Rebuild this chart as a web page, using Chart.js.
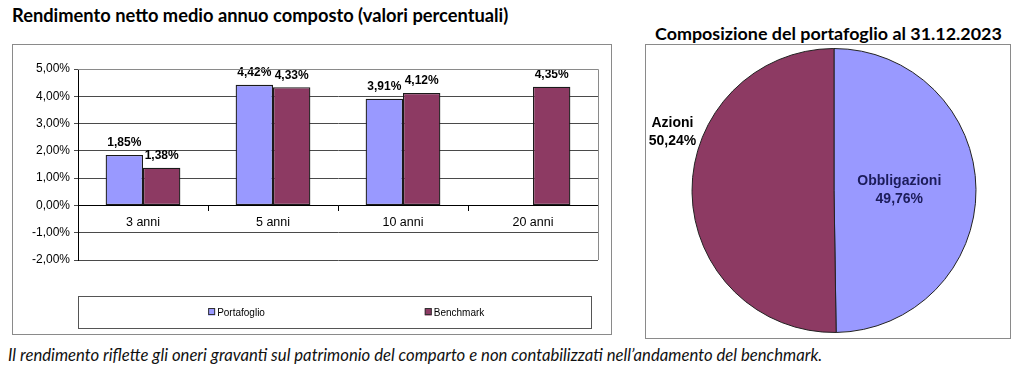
<!DOCTYPE html>
<html>
<head>
<meta charset="utf-8">
<script src="https://cdn.jsdelivr.net/npm/chart.js@4/dist/chart.umd.min.js"></script>
<style>
  body{ margin:0; background:#fff; width:1024px; height:379px; position:relative; overflow:hidden; font-family:Lato, "Open Sans", sans-serif }
  .title{ position:absolute; font-weight:bold; font-size:18.3px; color:#000; white-space:nowrap; line-height:20px }
  .box{ position:absolute; border:1px solid #8a8a8a; box-sizing:border-box }
  canvas{ position:absolute; left:0; top:0 }
  #note{ position:absolute; left:8px; top:345px; font-style:italic; font-size:16.7px; line-height:20px; white-space:nowrap; color:#111 }
</style>
</head>
<body>

<div class="title" id="t1" style="left:12px; top:5px">Rendimento netto medio annuo composto (valori percentuali)</div>
<div class="title" id="t2" style="left:655px; top:23px; font-size:17.9px">Composizione del portafoglio al 31.12.2023</div>

<div class="box" style="left:12px; top:44px; width:600px; height:291px"></div>
<canvas id="barChart" width="600" height="290" style="left:12px; top:44px"></canvas>

<div class="box" style="left:645px; top:44px; width:366px; height:295px"></div>
<canvas id="pieChart" width="365" height="294" style="left:645px; top:44px"></canvas>

<div id="note">Il rendimento riflette gli oneri gravanti sul patrimonio del comparto e non contabilizzati nell’andamento del benchmark.</div>

<script>
const periods = ["3 anni", "5 anni", "10 anni", "20 anni"]
const portafoglio = [1.85, 4.42, 3.91, null]
const benchmark = [1.38, 4.33, 4.12, 4.35]
const yTicks = [-2, -1, 0, 1, 2, 3, 4, 5]

const pieLabels = ["Obbligazioni", "Azioni"]
const pieValues = [49.76, 50.24]

const purple = "#9999ff"
const plum = "#8d3a63"

Chart.defaults.font.family = "'Liberation Sans', Arial, sans-serif"
Chart.defaults.color = "#000"
Chart.defaults.animation = false

const pct = v => v.toFixed(2).replace(".", ",") + "%"

// value labels over the bars
const barLabels = {
  id:"barLabels",
  afterDatasetsDraw(chart){
    const ctx = chart.ctx
    ctx.save()
    ctx.font = "bold 12px 'Liberation Sans', Arial"
    ctx.fillStyle = "#000"
    ctx.textAlign = "center"
    ctx.textBaseline = "middle"
    chart.data.datasets.forEach((ds, i) => {
      chart.getDatasetMeta(i).data.forEach((bar, j) => {
        if(ds.data[j] == null) return
        ctx.fillText(pct(ds.data[j]), bar.x, bar.y - 12)
      })
    })
    ctx.restore()
  }
}

// grey frame round the plot + boxed legend like excel
const frameAndLegend = {
  id:"frameAndLegend",
  afterDraw(chart){
    const ctx = chart.ctx
    const a = chart.chartArea
    ctx.save()
    ctx.strokeStyle = "#8a8a8a"
    ctx.lineWidth = 1
    ctx.beginPath()
    ctx.moveTo(a.left, a.top + 0.5)
    ctx.lineTo(a.right + 0.5, a.top + 0.5)
    ctx.lineTo(a.right + 0.5, a.bottom)
    ctx.stroke()

    const lx = a.left, ly = 252, lw = 513, lh = 32
    ctx.strokeStyle = "#555"
    ctx.strokeRect(lx + 0.5, ly + 0.5, lw, lh)

    const spots = [0.31, 0.735]
    ctx.font = "10px 'Liberation Sans', Arial"
    ctx.textBaseline = "middle"
    ctx.textAlign = "left"
    chart.data.datasets.forEach((ds, i) => {
      const w = ctx.measureText(ds.label).width + 10
      const x = lx + lw * spots[i] - w / 2
      const y = ly + lh / 2
      ctx.fillStyle = ds.backgroundColor
      ctx.fillRect(x, y - 3.5, 7, 7)
      ctx.strokeStyle = "#333"
      ctx.strokeRect(x + 0.5, y - 3.5, 6, 6)
      ctx.fillStyle = "#000"
      ctx.fillText(ds.label, x + 9, y + 1)
    })
    ctx.restore()
  }
}

new Chart(document.getElementById("barChart"), {
  type:"bar",
  data:{
    labels:periods,
    datasets:[
      { label:"Portafoglio", data:portafoglio, backgroundColor:purple, borderColor:"#1a1a1a", borderWidth:1.3, borderSkipped:false },
      { label:"Benchmark", data:benchmark, backgroundColor:plum, borderColor:"#1a1a1a", borderWidth:1.3, borderSkipped:false }
    ]
  },
  options:{
    responsive:false,
    categoryPercentage:0.575,
    barPercentage:1,
    layout:{ padding:{ left:0, top:25, right:14, bottom:74 } },
    plugins:{ legend:{ display:false }, tooltip:{ enabled:false } },
    scales:{
      x:{
        position:{ y:0 },
        grid:{ offset:true, drawOnChartArea:false, tickLength:5, color:"#000" },
        border:{ color:"#000" },
        ticks:{ padding:5, font:{ size:12.5 }, color:"#000" }
      },
      y:{
        min:yTicks[0],
        max:yTicks[yTicks.length - 1],
        afterBuildTicks(scale){ scale.ticks = yTicks.map(v => ({ value:v })) },
        afterFit(scale){ scale.width = 66 },
        grid:{ color:"#4a4a4a", tickLength:4 },
        border:{ color:"#000" },
        ticks:{ callback:v => pct(v), font:{ size:12 }, padding:4, color:"#000" }
      }
    }
  },
  plugins:[barLabels, frameAndLegend]
})

// pie labels: radius factor and angle shift (deg) per slice
const pieLabelRadius = [0.46, 1.21]
const pieLabelShift = [0, 20.4]
const pieLabelColor = ["#1c1c5a", "#000"]

const pieText = {
  id:"pieText",
  afterDatasetsDraw(chart){
    const ctx = chart.ctx
    ctx.save()
    ctx.font = "bold 14px 'Liberation Sans', Arial"
    ctx.textAlign = "center"
    ctx.textBaseline = "middle"
    chart.getDatasetMeta(0).data.forEach((arc, i) => {
      const mid = (arc.startAngle + arc.endAngle) / 2 + pieLabelShift[i] * Math.PI / 180
      const r = arc.outerRadius * pieLabelRadius[i]
      const x = arc.x + Math.cos(mid) * r
      const y = arc.y + Math.sin(mid) * r
      ctx.fillStyle = pieLabelColor[i]
      ctx.fillText(chart.data.labels[i], x, y - 9)
      ctx.fillText(pct(pieValues[i]), x, y + 9.5)
    })
    ctx.restore()
  }
}

new Chart(document.getElementById("pieChart"), {
  type:"pie",
  data:{
    labels:pieLabels,
    datasets:[{
      data:pieValues,
      backgroundColor:[purple, plum],
      borderColor:"#222",
      borderWidth:1
    }]
  },
  options:{
    responsive:false,
    layout:{ padding:{ left:13, top:4, right:0, bottom:5 } },
    plugins:{ legend:{ display:false }, tooltip:{ enabled:false } }
  },
  plugins:[pieText]
})
</script>
</body>
</html>
